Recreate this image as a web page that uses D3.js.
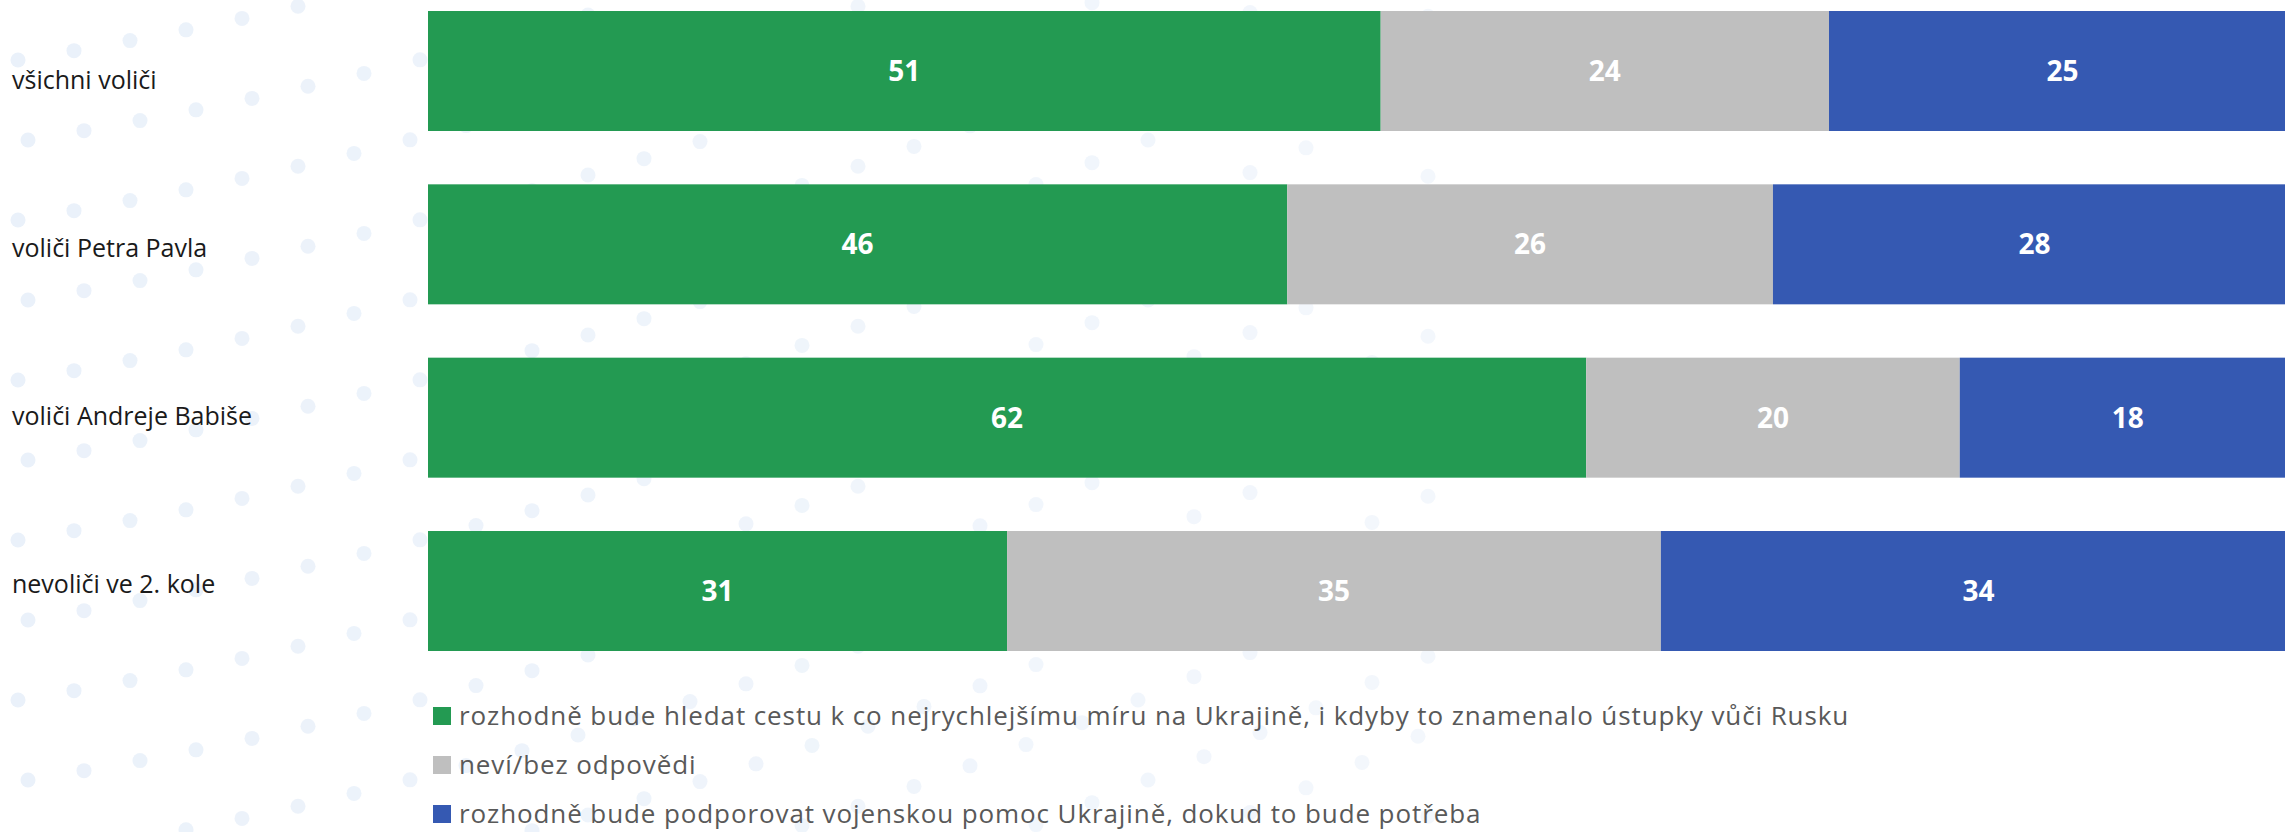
<!DOCTYPE html>
<html>
<head>
<meta charset="utf-8">
<script src="https://cdn.jsdelivr.net/npm/d3@7"></script>
<style>
body { margin: 0; background: #ffffff; }
svg { display: block; }
</style>
</head>
<body>
<div id="chart"></div>
<script>
// ----------------------------------------------------------
// DATA -----------------------------------------------------
// ----------------------------------------------------------
var categories = ["všichni voliči", "voliči Petra Pavla", "voliči Andreje Babiše", "nevoliči ve 2. kole"];
var series_keys = ["peace", "unknown", "military"];
var series_names = [
"rozhodně bude hledat cestu k co nejrychlejšímu míru na Ukrajině, i kdyby to znamenalo ústupky vůči Rusku",
"neví/bez odpovědi",
"rozhodně bude podporovat vojenskou pomoc Ukrajině, dokud to bude potřeba"
];
var values_peace = [51, 46, 62, 31];
var values_unknown = [24, 26, 20, 35];
var values_military = [25, 28, 18, 34];

// ----------------------------------------------------------
// SETTINGS -------------------------------------------------
// ----------------------------------------------------------
var W = 2285, H = 832;
var plot_left = 428, plot_width = 1868;
var plot_top = 11, plot_bottom = 651;
var colors = ["#239a52", "#bfbfbf", "#3559b2"];
var font = "'Open Sans', 'Noto Sans', sans-serif";

// table for the stack
var table = categories.map(function(c, i) {
return { cat: c, peace: values_peace[i], unknown: values_unknown[i], military: values_military[i] };
});

// ----------------------------------------------------------
// STRUCTURE ------------------------------------------------
// ----------------------------------------------------------
var svg = d3.select("#chart").append("svg")
.attr("width", W)
.attr("height", H)
.style("background-color", "#ffffff");

var bg_group = svg.append("g").attr("class", "bg_dots");
var bar_group = svg.append("g").attr("class", "bars");
var text_group = svg.append("g").attr("class", "texts");
var legend_group = svg.append("g").attr("class", "legend");

// ----------------------------------------------------------
// BACKGROUND DOTS (decoration) -----------------------------
// ----------------------------------------------------------
var dots = [];
for (var j = -4; j < 16; j++) {
for (var i = 0; i < 26; i++) {
var dx = 18 + i * 56 + (j % 2) * 10;
var dy = 60 + j * 80 - i * 9 - i * i * 0.35;
if (dx > 1500 || dy < 0 || dy > H) continue;
dots.push({ x: dx, y: dy, o: Math.max(0, 1 - dx / 1600) });
}
}
bg_group.selectAll("circle")
.data(dots)
.enter()
.append("circle")
.attr("cx", function(d) { return d.x; })
.attr("cy", function(d) { return d.y; })
.attr("r", 7.5)
.style("fill", "#eaf1fa")
.style("opacity", function(d) { return 0.5 + 0.5 * d.o; });

// ----------------------------------------------------------
// SCALES ---------------------------------------------------
// ----------------------------------------------------------
var xScale = d3.scaleLinear()
.domain([0, 100])
.range([plot_left, plot_left + plot_width]);

var yScale = d3.scaleBand()
.domain(categories)
.range([plot_top, plot_bottom])
.paddingInner(0.3077)
.paddingOuter(0);

// label baselines run on their own scale (labels sit a bit off the bars)
var yLabel = d3.scalePoint()
.domain(categories)
.range([89, 593]);

var color = d3.scaleOrdinal()
.domain(series_keys)
.range(colors);

var stacked = d3.stack().keys(series_keys)(table);

// ----------------------------------------------------------
// BARS -----------------------------------------------------
// ----------------------------------------------------------
var layers = bar_group.selectAll("g.layer")
.data(stacked)
.enter()
.append("g")
.attr("class", "layer")
.style("fill", function(d) { return color(d.key); });

layers.selectAll("rect")
.data(function(d) { return d; })
.enter()
.append("rect")
.attr("x", function(d) { return xScale(d[0]); })
.attr("y", function(d) { return yScale(d.data.cat); })
.attr("width", function(d) { return xScale(d[1]) - xScale(d[0]); })
.attr("height", yScale.bandwidth());

// value labels
layers.selectAll("text")
.data(function(d) { return d; })
.enter()
.append("text")
.attr("x", function(d) { return (xScale(d[0]) + xScale(d[1])) / 2; })
.attr("y", function(d) { return yScale(d.data.cat) + yScale.bandwidth() / 2; })
.attr("dy", "0.36em")
.attr("text-anchor", "middle")
.style("font-family", font)
.style("font-weight", "700")
.style("font-size", "28px")
.style("fill", "#ffffff")
.text(function(d) { return d[1] - d[0]; });

// ----------------------------------------------------------
// CATEGORY LABELS ------------------------------------------
// ----------------------------------------------------------
text_group.selectAll("text")
.data(categories)
.enter()
.append("text")
.attr("x", 12)
.attr("y", function(d) { return yLabel(d); })
.style("font-family", font)
.style("font-size", "25px")
.style("fill", "#1a1a1a")
.text(function(d) { return d; });

// ----------------------------------------------------------
// LEGEND ---------------------------------------------------
// ----------------------------------------------------------
var yLegend = d3.scalePoint()
.domain(series_keys)
.range([725, 823]);

var items = legend_group.selectAll("g")
.data(series_keys)
.enter()
.append("g");

items.append("rect")
.attr("x", 433)
.attr("y", function(d) { return yLegend(d) - 18; })
.attr("width", 18)
.attr("height", 18)
.style("fill", function(d) { return color(d); });

items.append("text")
.attr("x", 459)
.attr("y", function(d) { return yLegend(d); })
.style("font-family", font)
.style("font-size", "26px")
.style("letter-spacing", "0.9px")
.style("fill", "#595959")
.text(function(d, i) { return series_names[i]; });
</script>
</body>
</html>
